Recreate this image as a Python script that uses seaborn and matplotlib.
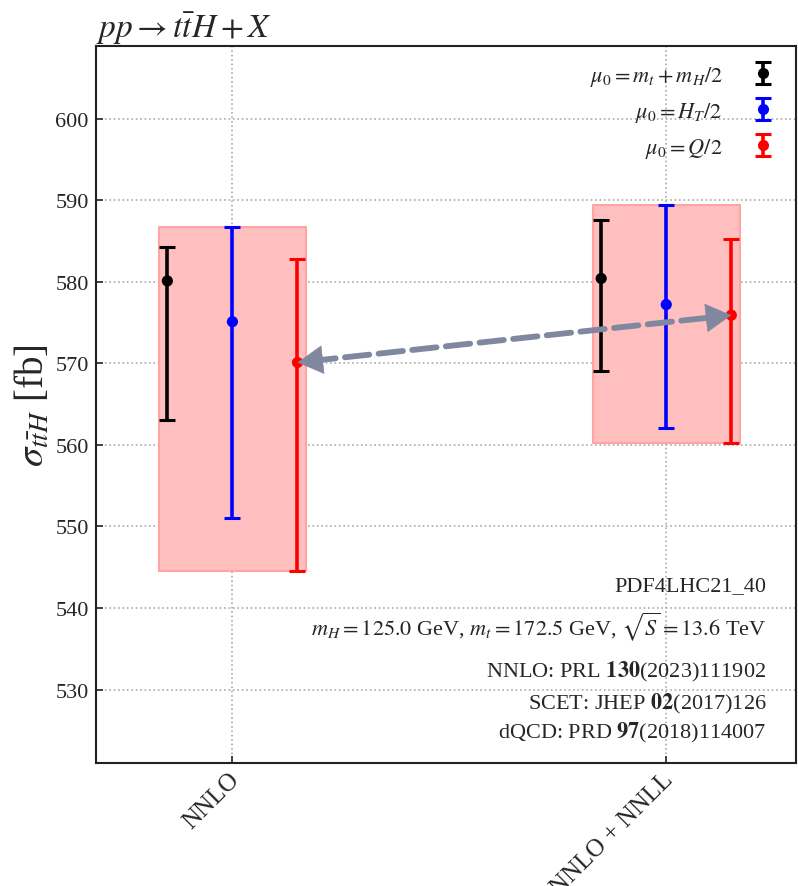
import numpy as np
import pandas as pd
import seaborn as sns
import matplotlib
matplotlib.use("Agg")
import matplotlib.pyplot as plt
import matplotlib.transforms as mtransforms

# ---------------- data ----------------
orders = ["NNLO", "NNLO + NNLL"]
scale_labels = [r"$\mu_0 = m_t + m_H/2$", r"$\mu_0 = H_T/2$", r"$\mu_0 = Q/2$"]
scale_colors = ["black", "blue", "red"]

nnlo_central = [580.1, 575.1, 570.1]
nnlo_upper = [584.2, 586.7, 582.8]
nnlo_lower = [563.1, 551.0, 544.5]

nnll_central = [580.4, 577.2, 575.9]
nnll_upper = [587.6, 589.4, 585.2]
nnll_lower = [569.0, 562.1, 560.2]

y_ticks = [530, 540, 550, 560, 570, 580, 590, 600]

info_lines = [
    "PDF4LHC21_40",
    r"$m_H = 125.0$ GeV, $m_t = 172.5$ GeV, $\sqrt{S} = 13.6$ TeV",
    r"NNLO: PRL $\mathbf{130}$(2023)111902",
    r"SCET: JHEP $\mathbf{02}$(2017)126",
    r"dQCD: PRD $\mathbf{97}$(2018)114007",
]

# ---------------- style ----------------
sns.set_style("ticks")
plt.rcParams["font.family"] = ["Liberation Serif", "DejaVu Serif"]
plt.rcParams["mathtext.fontset"] = "stix"

fig = plt.figure(figsize=(7.98, 8.87), dpi=100)
ax = fig.add_axes([0.120, 0.1387, 0.878, 0.8083])

offsets = [-0.15, 0.0, 0.15]
box_half = 0.17

rows = []
for i, order in enumerate(orders):
    c = [nnlo_central, nnll_central][i]
    u = [nnlo_upper, nnll_upper][i]
    l = [nnlo_lower, nnll_lower][i]
    for j in range(3):
        rows.append(dict(order=order, scale=scale_labels[j], xpos=i + offsets[j],
                         central=c[j], upper=u[j], lower=l[j]))
df = pd.DataFrame(rows)

# envelope boxes
for i, order in enumerate(orders):
    sub = df[df.order == order]
    lo, hi = sub.lower.min(), sub.upper.max()
    ax.fill_between([i - box_half, i + box_half], lo, hi,
                    facecolor="#ffbfbf", edgecolor="#ffa3a3", linewidth=1.5, zorder=1)

# error bars
for j, lab in enumerate(scale_labels):
    sub = df[df.scale == lab]
    yerr = np.vstack([sub.central - sub.lower, sub.upper - sub.central])
    ax.errorbar(sub.xpos, sub.central, yerr=yerr, fmt="none", ecolor=scale_colors[j],
                elinewidth=2.6, capsize=5.5, capthick=2.2, zorder=3)

sns.scatterplot(data=df, x="xpos", y="central", hue="scale", palette=scale_colors,
                s=65, edgecolor="none", legend=False, ax=ax, zorder=4)

# legend with errorbar-like handles
leg_handles = []
for j, lab in enumerate(scale_labels):
    eb = ax.errorbar([np.nan], [np.nan], yerr=[1], fmt="o", color=scale_colors[j],
                     markersize=7, elinewidth=2.6, capsize=5.5, capthick=2.2)
    leg_handles.append(eb)
ax.legend(leg_handles, scale_labels, loc="upper right", frameon=False,
          markerfirst=False, fontsize=16, handlelength=1.0, labelspacing=0.55,
          handletextpad=1.3, borderaxespad=0.3, bbox_to_anchor=(0.99, 0.997))

# arrow between red points: dashed shaft + solid heads
x0, y0 = 0 + offsets[2], nnlo_central[2]
x1, y1 = 1 + offsets[2], nnll_central[2]
arrow_col = "#8088a0"
ax.annotate("", xy=(x1, y1), xytext=(x0, y0),
            arrowprops=dict(arrowstyle="-", color=arrow_col, lw=4.2, linestyle=(0, (4.2, 1.6)),
                            shrinkA=10, shrinkB=10),
            zorder=5)
frac = 0.05
for (tx, ty), (sx, sy) in [((x1, y1), (x1 + (x0 - x1) * frac, y1 + (y0 - y1) * frac)),
                           ((x0, y0), (x0 + (x1 - x0) * frac, y0 + (y1 - y0) * frac))]:
    ax.annotate("", xy=(tx, ty), xytext=(sx, sy),
                arrowprops=dict(arrowstyle="-|>,head_length=0.8,head_width=0.45", color=arrow_col,
                                lw=0.5, mutation_scale=22, shrinkA=0, shrinkB=0),
                zorder=5)

# axes
ax.set_xlim(-0.315, 1.3)
ax.set_ylim(521.0, 608.9)
ax.set_xticks([0, 1])
ax.set_xticklabels([])
trans = mtransforms.blended_transform_factory(ax.transData, ax.transAxes)
shift = mtransforms.ScaledTranslation(-4 / 100, -5 / 100, fig.dpi_scale_trans)
for i, lab in enumerate(orders):
    ax.text(i, 0, lab, transform=trans + shift, rotation=45, ha="right", va="top",
            rotation_mode="anchor", fontsize=18)
ax.set_yticks(y_ticks)
ax.tick_params(axis="y", labelsize=16, direction="in", length=5, width=1.2, pad=5)
ax.tick_params(axis="x", direction="in", length=5, width=1.2)
ax.grid(True, linestyle=":", color="#aaaaaa", linewidth=1.2)
ax.set_axisbelow(True)
for s in ax.spines.values():
    s.set_linewidth(1.5)
    s.set_color("#222222")
ax.set_xlabel("")
ax.set_ylabel(r"$\sigma_{t\bar{t}H}$ [fb]", fontsize=28, labelpad=2)
ax.set_title(r"$pp \to t\bar{t}H + X$", loc="left", fontsize=24, pad=6)

# info text
ys = [0.247, 0.191, 0.128, 0.0837, 0.043]
for t, yy in zip(info_lines, ys):
    ax.text(0.957, yy, t, transform=ax.transAxes, ha="right", va="center", fontsize=16)

fig.savefig("out.png", dpi=100)
